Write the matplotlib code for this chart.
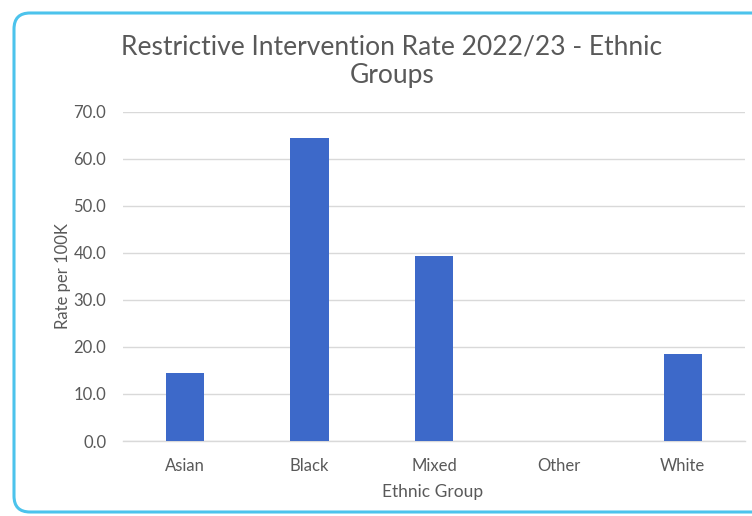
import matplotlib
matplotlib.use("Agg")
import matplotlib.pyplot as plt
from matplotlib.patches import FancyBboxPatch
from matplotlib.transforms import IdentityTransform

# Restrictive intervention rate per 100K population, 2022/23
groups = ["Asian", "Black", "Mixed", "Other", "White"]
rates = [14.5, 64.5, 39.4, 0.0, 18.5]
y_ticks = [0, 10, 20, 30, 40, 50, 60, 70]

TEXT = "#595959"
GRID = "#d9d9d9"
BAR = "#3d69c9"

plt.rcParams["font.family"] = ["Lato", "DejaVu Sans"]

W, H = 752, 516
fig = plt.figure(figsize=(W / 100, H / 100), dpi=100)
fig.patch.set_facecolor("white")

# rounded card outline (pixel coordinates, origin bottom-left)
card = FancyBboxPatch((14, H - 512), 780, 512 - 13,
                      boxstyle="round,pad=0,rounding_size=16",
                      transform=IdentityTransform(), facecolor="white",
                      edgecolor="#4cc3ec", linewidth=2.2, clip_on=False,
                      zorder=-10)
fig.patches.append(card)

ax = fig.add_axes([123 / W, 1 - 441 / H, (745 - 123) / W, (441 - 112) / H])
ax.set_zorder(5)
ax.set_facecolor("none")
x = range(len(groups))
ax.bar(x, rates, width=0.31, color=BAR, zorder=3)

ax.set_xlim(-0.5, len(groups) - 0.5)
ax.set_ylim(0, 70)
ax.set_yticks(y_ticks)
ax.set_yticklabels([f"{v:.1f}" for v in y_ticks])
ax.set_xticks(list(x))
ax.set_xticklabels(groups)
ax.tick_params(axis="both", length=0, colors=TEXT, labelsize=12)
ax.tick_params(axis="y", pad=12)
ax.tick_params(axis="x", pad=12)
ax.grid(axis="y", color=GRID, linewidth=1.0, zorder=0)
for side in ["top", "right", "left"]:
    ax.spines[side].set_visible(False)
ax.spines["bottom"].set_color(GRID)
ax.spines["bottom"].set_linewidth(1.0)

ax.set_ylabel("Rate per 100K", color=TEXT, fontsize=12, labelpad=2)
fig.text(433 / W, 1 - 492 / H, "Ethnic Group", color=TEXT, fontsize=12.5,
         ha="center", va="center")

fig.text(392 / W, 1 - 61 / H, "Restrictive Intervention Rate 2022/23 - Ethnic\nGroups",
         color=TEXT, fontsize=19, ha="center", va="center", linespacing=1.2)

fig.savefig("out.png", dpi=100, facecolor="white")
